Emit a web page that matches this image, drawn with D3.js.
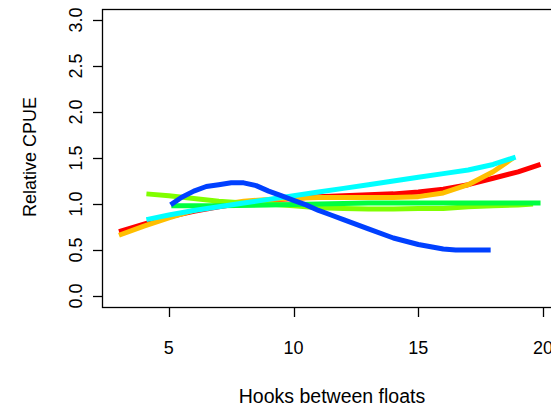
<!DOCTYPE html>
<html>
  <head>
    <meta charset="utf-8">
    <title>Relative CPUE by hooks between floats</title>
    <script src="https://cdn.jsdelivr.net/npm/d3@7"></script>
    <style>
      body { margin: 0; background: #fff; }
      svg { display: block; font-family: "Liberation Sans", Arial, sans-serif; }
    </style>
  </head>
  <body>
    <div id="viz"></div>
    <script>
      // values, one array per curve: [hooks, relative CPUE]
      var redLine = [[3.0,0.70],[4,0.78],[5,0.86],[6,0.92],[7,0.97],[8,1.01],[9,1.04],[10,1.06],[11,1.08],
                     [12,1.09],[13,1.10],[14,1.11],[15,1.13],[16,1.16],[17,1.21],[18,1.28],[19,1.35],[19.9,1.43]];
      var orangeLine = [[3.0,0.66],[4,0.76],[5,0.85],[6,0.93],[7,0.99],[8,1.03],[9,1.05],[10,1.06],[11,1.07],
                        [12,1.07],[13,1.07],[14,1.07],[15,1.08],[16,1.12],[17,1.21],[18,1.35],[18.8,1.50]];
      var limeLine = [[4.1,1.11],[5,1.09],[6,1.06],[7,1.03],[8,1.01],[9,1.00],[10,0.98],[11,0.96],[12,0.95],
                      [13,0.945],[14,0.945],[15,0.95],[16,0.95],[17,0.97],[18,0.98],[19,0.99],[19.6,1.00]];
      var greenLine = [[5.1,0.98],[7,0.98],[9,0.99],[11,1.00],[13,1.01],[15,1.01],[17,1.01],[19.9,1.01]];
      var cyanLine = [[4.1,0.83],[5,0.88],[6,0.93],[7,0.97],[8,1.01],[9,1.05],[10,1.09],[11,1.13],[12,1.17],
                      [13,1.21],[14,1.25],[15,1.29],[16,1.33],[17,1.37],[18,1.43],[18.9,1.51]];
      var blueLine = [[5.07,0.99],[5.5,1.07],[6,1.14],[6.5,1.19],[7,1.21],[7.5,1.23],[8,1.23],[8.5,1.20],
                      [9,1.14],[9.5,1.09],[10,1.04],[10.5,0.99],[11,0.93],[11.5,0.88],[12,0.83],[13,0.73],
                      [14,0.63],[15,0.56],[16,0.51],[16.5,0.50],[17.9,0.50]];

      var seriesList = [redLine, orangeLine, limeLine, greenLine, cyanLine, blueLine];
      var seriesColors = ["#FF0000", "#FFBF00", "#80FF00", "#00FF40", "#00FFFF", "#0040FF"];
      var xTicks = [5, 10, 15, 20];
      var yTicks = [0, 0.5, 1, 1.5, 2, 2.5, 3];

      var width = 551, height = 407;
      var svg = d3.select("#viz").append("svg")
          .attr("width", width)
          .attr("height", height);

      // R style: data range plus 4% on each side
      var x = d3.scaleLinear().domain([2.32, 20.68]).range([102, 560]);
      var y = d3.scaleLinear().domain([-0.12, 3.12]).range([307, 9]);

      var line = d3.line()
          .x(function(d) { return x(d[0]); })
          .y(function(d) { return y(d[1]); });

      svg.selectAll("path.curve")
          .data(seriesList)
          .enter().append("path")
          .attr("class", "curve")
          .attr("d", line)
          .attr("fill", "none")
          .attr("stroke", function(d, i) { return seriesColors[i]; })
          .attr("stroke-width", 5)
          .attr("stroke-linejoin", "round");

      // plot box
      svg.append("rect")
          .attr("x", 102.5).attr("y", 9.5)
          .attr("width", 458).attr("height", 298)
          .attr("fill", "none")
          .attr("stroke", "#000")
          .attr("stroke-width", 1.3);

      // x axis
      var xAxis = svg.append("g");
      xAxis.selectAll("line")
          .data(xTicks)
          .enter().append("line")
          .attr("x1", function(d) { return Math.round(x(d)) + 0.5; })
          .attr("x2", function(d) { return Math.round(x(d)) + 0.5; })
          .attr("y1", 307).attr("y2", 317)
          .attr("stroke", "#000").attr("stroke-width", 1.3);
      xAxis.selectAll("text")
          .data(xTicks)
          .enter().append("text")
          .attr("x", function(d) { return x(d); })
          .attr("y", 354)
          .attr("text-anchor", "middle")
          .attr("font-size", 18)
          .text(function(d) { return d; });

      // y axis, labels turned like R's las = 0
      var yAxis = svg.append("g");
      yAxis.selectAll("line")
          .data(yTicks)
          .enter().append("line")
          .attr("x1", 93).attr("x2", 102)
          .attr("y1", function(d) { return Math.round(y(d)) + 0.5; })
          .attr("y2", function(d) { return Math.round(y(d)) + 0.5; })
          .attr("stroke", "#000").attr("stroke-width", 1.3);
      yAxis.selectAll("text")
          .data(yTicks)
          .enter().append("text")
          .attr("transform", function(d) { return "translate(82," + y(d) + ") rotate(-90)"; })
          .attr("text-anchor", "middle")
          .attr("font-size", 18)
          .text(function(d) { return d3.format(".1f")(d); });

      // axis titles
      svg.append("text")
          .attr("x", 332).attr("y", 403)
          .attr("text-anchor", "middle")
          .attr("font-size", 19.5)
          .text("Hooks between floats");
      svg.append("text")
          .attr("transform", "translate(36,157) rotate(-90)")
          .attr("text-anchor", "middle")
          .attr("font-size", 18)
          .text("Relative CPUE");
    </script>
  </body>
</html>
